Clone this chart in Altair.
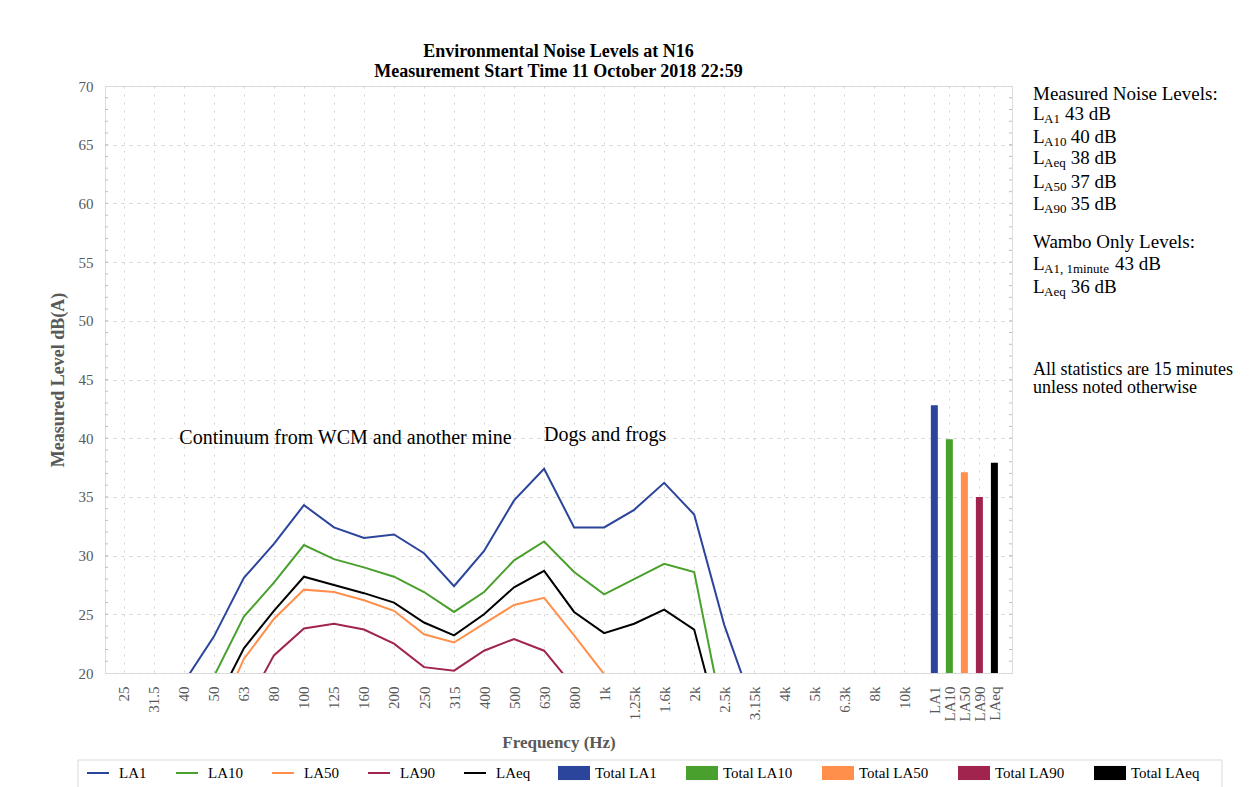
import json
import altair as alt
import pandas as pd

FONT = "Liberation Serif"

bands = ["25", "31.5", "40", "50", "63", "80", "100", "125", "160", "200", "250", "315",
         "400", "500", "630", "800", "1k", "1.25k", "1.6k", "2k", "2.5k", "3.15k", "4k",
         "5k", "6.3k", "8k", "10k"]
N = None
la1 = [N, N, 19.2, 23.1, 28.1, 31.0, 34.3, 32.4, 31.5, 31.8, 30.2, 27.4, 30.4, 34.7, 37.4,
       32.4, 32.4, 33.9, 36.2, 33.5, 24.1, 16.9, N, N, N, N, N]
la10 = [N, N, N, 19.7, 24.8, 27.7, 30.9, 29.7, 29.0, 28.2, 26.9, 25.2, 26.9, 29.6, 31.2,
        28.6, 26.7, 28.0, 29.3, 28.6, 15.8, N, N, N, N, N, N]
la50 = [N, N, N, 15.5, 21.2, 24.6, 27.1, 26.9, 26.2, 25.3, 23.3, 22.6, 24.2, 25.8, 26.4,
        23.2, 19.9, N, N, N, N, N, N, N, N, N, N]
la90 = [N, N, N, N, 16.8, 21.5, 23.8, 24.2, 23.7, 22.5, 20.5, 20.2, 21.9, 22.9, 21.9,
        18.8, N, N, N, N, N, N, N, N, N, N, N]
laeq = [N, N, N, 17.1, 22.1, 25.3, 28.2, 27.5, 26.8, 26.0, 24.3, 23.2, 25.0, 27.3, 28.7,
        25.2, 23.4, 24.2, 25.4, 23.7, 14.0, N, N, N, N, N, N]

series_names = ["LA1", "LA10", "LA50", "LA90", "LAeq"]
series_values = [la1, la10, la50, la90, laeq]
total_names = ["LA1", "LA10", "LA50", "LA90", "LAeq"]
total_labels = ["Total LA1", "Total LA10", "Total LA50", "Total LA90", "Total LAeq"]
total_values = [42.8, 39.9, 37.1, 35.0, 37.9]
colors = ["#2a459b", "#4aa02c", "#ff8f4a", "#a0244e", "#000000"]

rows = []
for name, vals in zip(series_names, series_values):
    for i, v in enumerate(vals):
        if v is not None:
            rows.append({"series": name, "pos": i, "level": v})
line_df = pd.DataFrame(rows)

bar_df = pd.DataFrame({
    "label": total_labels,
    "name": total_names,
    "pos": [len(bands) + 0.5 * i for i in range(len(total_names))],
    "level": total_values,
})

tick_vals = list(range(len(bands))) + [len(bands) + 0.5 * i for i in range(len(total_names))]
label_expr = (f"datum.value < {len(bands) - 0.5} ? {json.dumps(bands)}[round(datum.value)] : "
              f"{json.dumps(total_names)}[round((datum.value - {len(bands)}) * 2)]")

xscale = alt.Scale(domain=[-0.46, 29.42], nice=False, zero=False)
yscale = alt.Scale(domain=[20, 70], nice=False, zero=False)

xaxis = alt.Axis(values=tick_vals, labelExpr=label_expr, labelAngle=270, labelOverlap=False,
                 labelFlush=False, labelPadding=13, labelFont=FONT, labelFontSize=15,
                 labelColor="#595959", domain=False, ticks=False, grid=True,
                 gridColor="#d4d4d4", gridDash=[2, 6], titleFont=FONT, titleFontSize=17,
                 titleFontWeight="bold", titleColor="#595959", titlePadding=14)
yaxis = alt.Axis(values=list(range(20, 71, 5)), labelFont=FONT, labelFontSize=15,
                 labelColor="#595959", labelPadding=12, domain=False, ticks=False, grid=True,
                 labelOverlap=False,
                 gridColor="#d4d4d4", gridDash=[3, 5], titleFont=FONT, titleFontSize=18,
                 titleFontWeight="bold", titleColor="#595959", titlePadding=11)
XT = "Frequency (Hz)"
YT = "Measured Level dB(A)"

line_legend = alt.Legend(title=None, orient="none", legendX=-19, legendY=675,
                         direction="horizontal", columns=5, symbolType="stroke",
                         symbolSize=484, symbolStrokeWidth=2, labelFont=FONT,
                         labelFontSize=15, labelColor="black", labelOffset=9,
                         columnPadding=25, padding=0)
bar_legend = alt.Legend(title=None, orient="none", legendX=452, legendY=670,
                        direction="horizontal", columns=5,
                        symbolType="M-1,-0.44H1V0.44H-1Z", symbolSize=1024,
                        labelFont=FONT, labelFontSize=15, labelColor="black",
                        labelOffset=4, columnPadding=28, padding=0)

lines = alt.Chart(line_df).mark_line(strokeWidth=2, clip=True).encode(
    x=alt.X("pos:Q", scale=xscale, axis=xaxis, title=XT),
    y=alt.Y("level:Q", scale=yscale, axis=yaxis, title=YT),
    stroke=alt.Stroke("series:N", scale=alt.Scale(domain=series_names, range=colors),
                      legend=line_legend),
)

bars = alt.Chart(bar_df).mark_bar(size=7, clip=True).encode(
    x=alt.X("pos:Q", scale=xscale, axis=xaxis, title=XT),
    y=alt.Y("level:Q", scale=yscale, axis=yaxis, title=YT),
    y2=alt.datum(20),
    fill=alt.Fill("label:N", scale=alt.Scale(domain=total_labels, range=colors),
                  legend=bar_legend),
)

minor_df = pd.DataFrame({"v": list(range(21, 70))})
ticks_left = alt.Chart(minor_df).mark_rule(color="#bfbfbf", strokeWidth=1).encode(
    y=alt.Y("v:Q", scale=yscale, axis=yaxis, title=YT), x=alt.value(0), x2=alt.value(3))
ticks_right = alt.Chart(minor_df).mark_rule(color="#bfbfbf", strokeWidth=1).encode(
    y=alt.Y("v:Q", scale=yscale, axis=yaxis, title=YT), x=alt.value(904), x2=alt.value(907))

one = pd.DataFrame({"k": [0]})


def note(s, x, y, size=20):
    return alt.Chart(one).mark_text(text=s, font=FONT, fontSize=size, align="left",
                                    baseline="alphabetic", color="black").encode(
        x=alt.X(datum=x, scale=xscale, axis=xaxis, title=XT),
        y=alt.Y(datum=y, scale=yscale, axis=yaxis, title=YT))


def txt(s, x, y, size=19):
    return alt.Chart(one).mark_text(text=s, font=FONT, fontSize=size, align="left",
                                    baseline="alphabetic", color="black").encode(
        x=alt.value(x), y=alt.value(y))


texts = [
    note("Continuum from WCM and another mine", 1.85, 39.5),
    note("Dogs and frogs", 14.0, 39.8),
    txt("Measured Noise Levels:", 928, 14),
    txt("L", 928, 33.5), txt("A1", 939, 36.5, 13), txt("43 dB", 960, 33.5),
    txt("L", 928, 56.7), txt("A10", 939, 59.7, 13), txt("40 dB", 965.7, 56.7),
    txt("L", 928, 78), txt("Aeq", 939, 81, 13), txt("38 dB", 965.7, 78),
    txt("L", 928, 102.3), txt("A50", 939, 105.3, 13), txt("37 dB", 965.7, 102.3),
    txt("L", 928, 124), txt("A90", 939, 127, 13), txt("35 dB", 965.7, 124),
    txt("Wambo Only Levels:", 928, 162.3),
    txt("L", 928, 184), txt("A1, 1minute", 939, 187, 13), txt("43 dB", 1010, 184),
    txt("L", 928, 207.3), txt("Aeq", 939, 210.3, 13), txt("36 dB", 965.7, 207.3),
    txt("All statistics are 15 minutes", 928, 289, 18),
    txt("unless noted otherwise", 928, 307.3, 18),
]

legend_box = alt.Chart(one).mark_rect(fill="white", fillOpacity=0, stroke="#d9d9d9",
                                      strokeWidth=1).encode(
    x=alt.value(-27), x2=alt.value(1117), y=alt.value(674), y2=alt.value(760))

chart = alt.layer(
    legend_box, ticks_left, ticks_right, bars, lines, *texts
).properties(
    width=907, height=587,
    autosize=alt.AutoSizeParams(type="none"),
    padding={"left": 97, "top": 78, "right": 238, "bottom": 114},
    title=alt.Title(["Environmental Noise Levels at N16",
                     "Measurement Start Time 11 October 2018 22:59"],
                    font=FONT, fontSize=18, fontWeight="bold", color="black",
                    anchor="middle", offset=1, dy=3, lineHeight=20),
).configure_view(stroke="#bfbfbf", strokeWidth=2).configure_axis(
    labelOverlap=False
).configure(background="white")

chart.save("out.html", embed_options={"renderer": "svg", "actions": False})
